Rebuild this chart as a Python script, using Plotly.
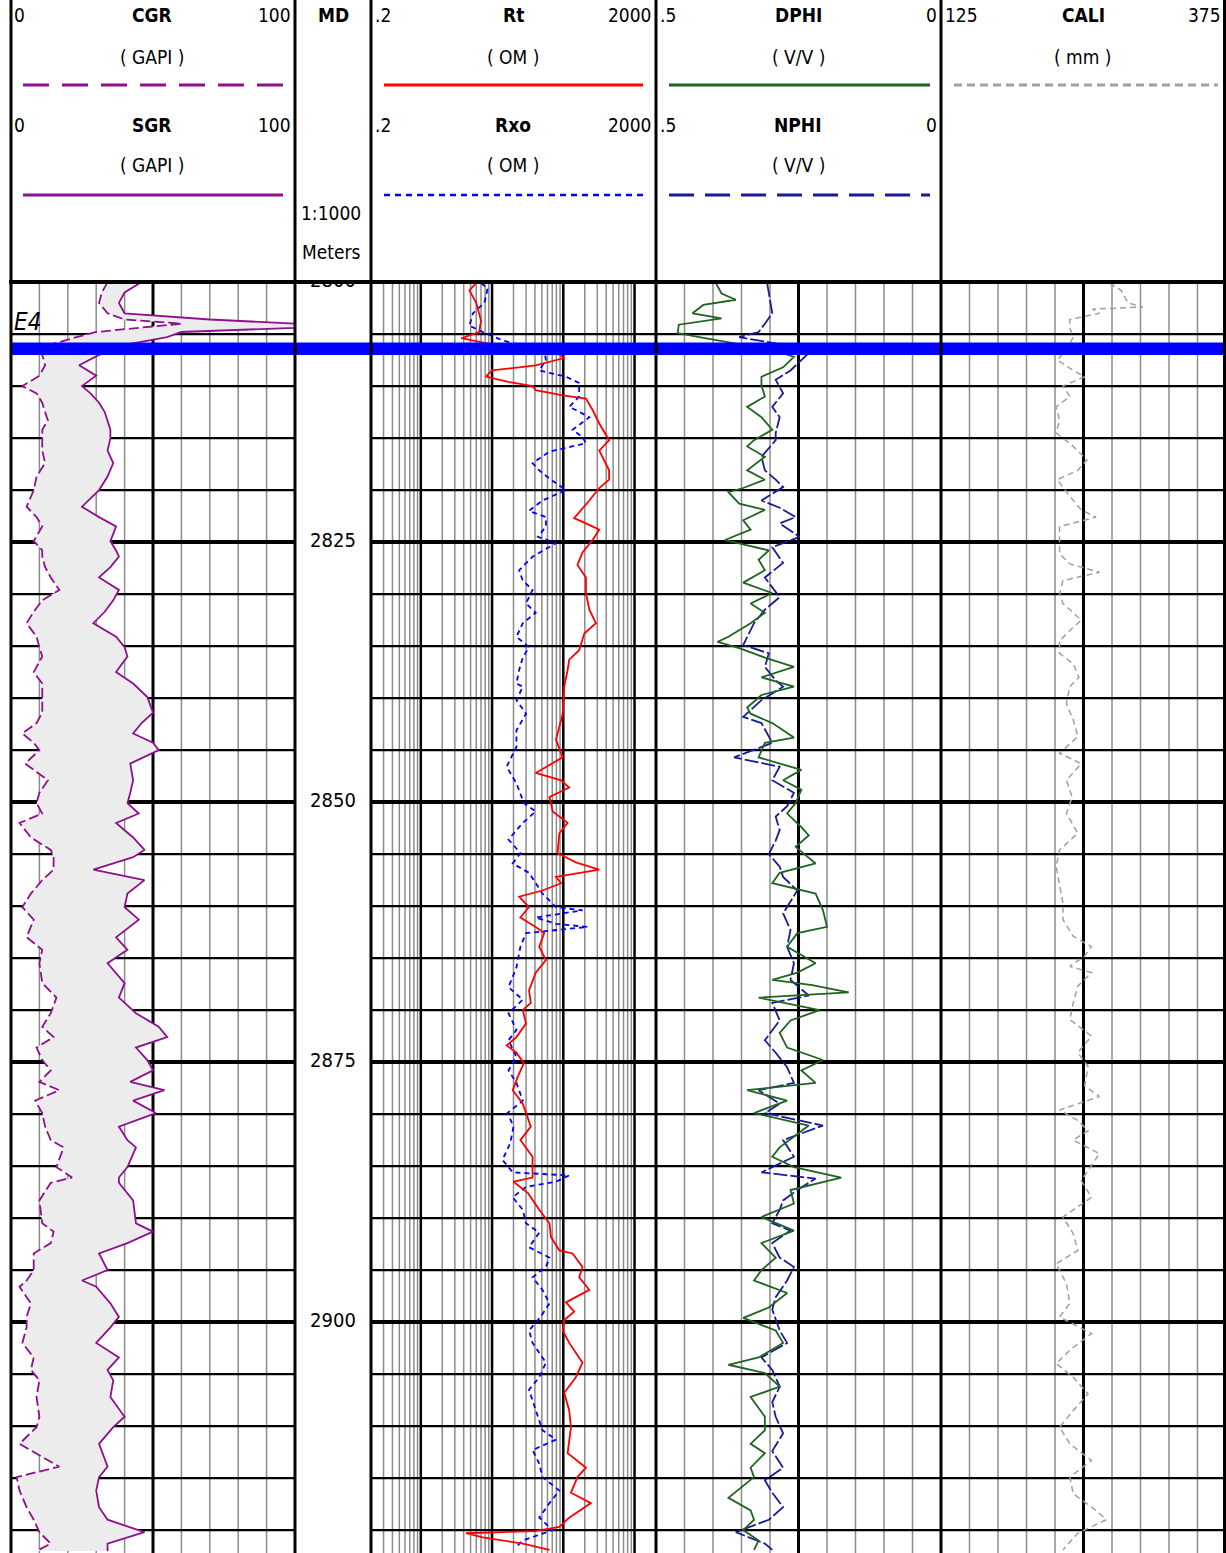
import plotly.graph_objects as go

W, H = 1226, 1553

# ---------------- data ----------------
gr_depth = [2800.0, 2801.0, 2802.0, 2803.0, 2803.6, 2804.0, 2804.4, 2804.8, 2805.3, 2806.0,
            2807.0, 2808.0, 2809.0, 2810.0, 2810.7, 2811.6, 2812.5, 2813.3, 2814.2, 2815.0,
            2816.2, 2817.4, 2818.7, 2820.0, 2821.6, 2822.6, 2823.5, 2824.9, 2825.8, 2826.4,
            2827.4, 2828.4, 2829.6, 2830.6, 2831.7, 2832.8, 2834.1, 2835.1, 2836.0, 2837.5,
            2838.6, 2839.9, 2841.4, 2842.4, 2843.4, 2844.3, 2845.0, 2846.3, 2847.9, 2849.1,
            2850.1, 2851.1, 2852.0, 2853.4, 2854.6, 2855.3, 2856.5, 2857.5, 2858.8, 2860.1,
            2861.3, 2863.0, 2864.2, 2865.5, 2867.4, 2868.8, 2870.3, 2871.6, 2872.6, 2873.6,
            2874.8, 2875.8, 2876.9, 2877.7, 2878.7, 2879.9, 2881.2, 2882.5, 2883.2, 2885.1,
            2886.1, 2886.6, 2888.3, 2890.5, 2891.3, 2892.4, 2893.4, 2895.0, 2896.0, 2896.6,
            2898.2, 2899.5, 2900.5, 2902.0, 2903.4, 2904.6, 2905.6, 2907.2, 2909.1, 2910.1,
            2911.7, 2913.9, 2914.9, 2916.2, 2917.8, 2919.0, 2920.2, 2921.3, 2922.0]
cgr = [34, 32, 31, 34, 40, 60, 45, 30, 23, 14,
       11, 12, 10, 4, 9, 11, 12, 13, 11, 11,
       11, 12, 9, 8, 5.5, 9, 11, 8, 11, 11,
       12, 14, 17, 11, 8, 5.5, 9, 10, 11, 8,
       11, 11, 11, 9, 4, 8, 10, 5, 13, 10,
       9, 11, 3, 7, 14, 15, 15, 11, 7, 4,
       8, 5.5, 11, 10, 11, 16, 14, 11, 15, 9,
       11, 14, 10, 17, 8.5, 11, 12, 14, 18.5, 16,
       21.5, 14, 10, 11, 15, 14, 8, 8, 5.5, 3,
       7, 5.5, 5.5, 4, 8, 7, 10, 9, 10, 9,
       3, 17, 2, 3, 5.5, 8, 10, 14, 9]
sgr = [46, 40, 38, 40, 70, 100, 100, 60, 55, 41,
       31, 24, 30, 25, 28, 31, 33, 34, 35, 35,
       34, 36, 34, 31, 25, 31, 37, 35, 37, 38,
       35, 31, 38, 36, 33, 29, 37, 40, 41, 37,
       43, 48, 50, 46, 43, 50, 52, 42, 43, 42,
       41, 45, 37, 43, 47, 43, 29, 47, 41, 40,
       45, 37, 41, 34, 40, 38, 44, 52, 55, 44,
       48, 50, 42, 54, 43, 51, 38, 41, 44, 41,
       38, 38, 43, 44, 50, 41, 31, 34, 25, 30,
       35, 38, 35, 30, 38, 34, 36, 35, 40, 36,
       31, 34, 31, 30, 31, 34, 47, 34, 34]

rt_depth = [2800.1, 2800.8, 2802.0, 2803.7, 2804.8, 2805.4, 2806.0, 2806.4, 2806.8, 2807.3,
            2808.0, 2808.5, 2809.1, 2809.6, 2810.0, 2810.4, 2810.9, 2811.2, 2812.3, 2813.6,
            2815.2, 2816.2, 2818.1, 2819.0, 2819.8, 2821.0, 2822.7, 2823.2, 2823.8, 2824.8,
            2826.0, 2827.2, 2828.4, 2829.9, 2831.5, 2832.8, 2833.8, 2835.4, 2836.3, 2837.3,
            2838.9, 2841.5, 2844.0, 2845.7, 2847.2, 2847.9, 2848.6, 2849.5, 2850.9, 2852.0,
            2853.0, 2854.9, 2855.8, 2856.5, 2857.2, 2857.8, 2858.5, 2859.1, 2860.1, 2861.1,
            2862.0, 2862.6, 2863.9, 2865.2, 2866.4, 2868.1, 2869.3, 2870.0, 2871.3, 2872.6,
            2873.4, 2874.1, 2875.1, 2876.4, 2877.7, 2879.0, 2879.9, 2881.2, 2882.5, 2884.1,
            2886.1, 2886.5, 2887.6, 2889.2, 2890.5, 2891.8, 2893.1, 2893.4, 2894.7, 2895.7,
            2896.9, 2898.1, 2899.0, 2899.8, 2900.8, 2902.0, 2903.9, 2905.3, 2906.8, 2908.5,
            2910.1, 2912.6, 2914.0, 2914.9, 2916.4, 2917.4, 2918.8, 2919.7, 2920.1, 2920.3,
            2920.7, 2921.3, 2921.9]
rt = [6, 4.8, 6, 7, 6.6, 3.7, 10, 30, 80, 103,
      41, 10, 8.2, 17, 37, 41, 98, 208, 258, 320,
      440, 320, 440, 440, 320, 232, 142, 208, 320, 258,
      186, 158, 208, 208, 232, 287, 197, 167, 121, 115,
      103, 98, 79, 98, 41, 93, 121, 64, 71, 115,
      88, 83, 150, 320, 79, 93, 51, 24, 33, 25,
      41, 54, 46, 57, 41, 33, 35, 27, 30, 22,
      16, 22, 28, 23, 19.5, 27, 30, 35, 25, 37,
      37, 20, 32, 46, 64, 67, 88, 135, 186, 167,
      232, 109, 142, 103, 98, 121, 186, 150, 103, 121,
      128, 115, 208, 158, 128, 244, 121, 88, 40, 4.3,
      7.4, 27, 64]

rxo_depth = [2800.1, 2800.6, 2802.0, 2803.0, 2804.2, 2804.8, 2805.6, 2806.2, 2806.8, 2807.5,
             2808.5, 2809.1, 2809.7, 2811.0, 2812.0, 2812.3, 2813.0, 2814.2, 2814.9, 2815.5,
             2816.3, 2817.4, 2818.1, 2819.0, 2820.0, 2821.0, 2822.0, 2822.6, 2823.5, 2824.5,
             2825.1, 2826.4, 2827.7, 2828.7, 2829.6, 2830.9, 2831.8, 2832.8, 2834.1, 2835.1,
             2836.1, 2837.3, 2838.6, 2838.9, 2840.2, 2841.5, 2843.1, 2844.7, 2846.6, 2848.2,
             2850.1, 2850.9, 2852.0, 2853.6, 2854.9, 2855.9, 2856.8, 2857.8, 2858.8, 2860.1,
             2860.4, 2861.1, 2861.7, 2862.0, 2862.6, 2863.9, 2865.9, 2867.8, 2869.0, 2870.3,
             2871.9, 2872.9, 2874.5, 2875.8, 2877.0, 2878.7, 2879.9, 2881.2, 2882.8, 2884.4,
             2885.6, 2885.9, 2886.5, 2887.0, 2888.0, 2889.2, 2890.5, 2891.4, 2892.8, 2893.8,
             2894.7, 2895.7, 2896.9, 2898.2, 2899.5, 2900.8, 2902.0, 2903.9, 2905.3, 2906.5,
             2908.5, 2910.4, 2911.3, 2912.3, 2913.6, 2914.9, 2916.2, 2917.4, 2918.8, 2920.0,
             2921.0, 2921.6]
rxo = [7, 8.7, 7.8, 5.4, 4.8, 7.4, 14, 30, 55, 57,
       46, 109, 167, 167, 121, 150, 232, 135, 186, 208,
       64, 37, 46, 67, 109, 51, 33, 57, 57, 44,
       79, 37, 24, 27, 37, 30, 41, 27, 22, 33,
       27, 24, 22, 27, 22, 30, 22, 22, 16, 22,
       28, 41, 27, 17, 25, 19.5, 33, 41, 51, 79,
       186, 41, 79, 219, 30, 25, 22, 17, 27, 17,
       22, 17, 22, 17, 22, 27, 16.5, 20, 18, 14,
       19.5, 121, 79, 30, 19.5, 27, 30, 46, 33, 64,
       57, 37, 51, 64, 48, 33, 37, 57, 46, 33,
       41, 51, 79, 37, 46, 51, 88, 64, 46, 71,
       27, 22]

dphi_depth = [2800.1, 2801.1, 2801.7, 2802.2, 2803.0, 2803.5, 2804.1, 2804.9, 2805.3, 2806.0,
              2806.6, 2807.2, 2808.2, 2809.1, 2809.9, 2811.0, 2812.0, 2813.0, 2814.2, 2815.2,
              2815.8, 2816.8, 2818.1, 2819.0, 2819.8, 2820.2, 2821.3, 2821.9, 2822.9, 2823.8,
              2824.8, 2825.8, 2826.7, 2827.7, 2828.9, 2829.9, 2830.9, 2831.8, 2832.8, 2834.1,
              2834.6, 2835.2, 2836.1, 2837.0, 2838.0, 2838.9, 2839.7, 2840.9, 2841.5, 2842.4,
              2843.8, 2844.3, 2845.7, 2846.9, 2847.9, 2848.8, 2850.1, 2851.1, 2852.4, 2853.2,
              2854.3, 2855.9, 2856.8, 2857.8, 2858.8, 2860.4, 2862.0, 2862.6, 2863.9, 2865.5,
              2866.4, 2867.1, 2867.6, 2868.3, 2868.8, 2870.0, 2871.0, 2872.2, 2873.6, 2874.8,
              2875.8, 2877.0, 2877.7, 2878.7, 2879.9, 2881.1, 2882.2, 2883.2, 2884.1, 2885.1,
              2886.1, 2887.3, 2888.6, 2889.9, 2891.2, 2892.4, 2893.8, 2895.0, 2896.0, 2897.2,
              2898.6, 2899.6, 2900.8, 2902.0, 2903.4, 2904.1, 2904.9, 2906.2, 2907.2, 2908.2,
              2909.1, 2910.4, 2911.7, 2912.6, 2914.0, 2914.9, 2916.9, 2918.1, 2919.0, 2920.0,
              2921.0, 2921.9]
dphi = [0.395, 0.385, 0.36, 0.417, 0.436, 0.385, 0.46, 0.462, 0.424, 0.35,
        0.29, 0.258, 0.277, 0.315, 0.315, 0.309, 0.34, 0.315, 0.296, 0.328,
        0.34, 0.309, 0.34, 0.309, 0.347, 0.373, 0.354, 0.309, 0.347, 0.334,
        0.379, 0.302, 0.32, 0.309, 0.347, 0.296, 0.334, 0.309, 0.334, 0.373,
        0.392, 0.354, 0.309, 0.258, 0.315, 0.258, 0.315, 0.34, 0.334, 0.296,
        0.258, 0.309, 0.32, 0.245, 0.277, 0.245, 0.255, 0.27, 0.245, 0.232,
        0.255, 0.22, 0.283, 0.296, 0.22, 0.207, 0.2, 0.252, 0.27, 0.22,
        0.252, 0.296, 0.226, 0.162, 0.32, 0.213, 0.264, 0.283, 0.27, 0.207,
        0.245, 0.22, 0.34, 0.27, 0.328, 0.232, 0.258, 0.283, 0.296, 0.258,
        0.175, 0.264, 0.258, 0.315, 0.258, 0.315, 0.29, 0.315, 0.328, 0.27,
        0.302, 0.347, 0.29, 0.277, 0.32, 0.373, 0.309, 0.283, 0.334, 0.32,
        0.309, 0.309, 0.334, 0.309, 0.334, 0.328, 0.373, 0.334, 0.328, 0.347,
        0.32, 0.328]

nphi_depth = [2800.1, 2801.0, 2802.0, 2803.0, 2804.0, 2804.8, 2805.3, 2806.0, 2806.5, 2807.5,
              2808.5, 2809.4, 2810.7, 2812.0, 2813.0, 2814.5, 2815.2, 2816.8, 2818.1, 2819.0,
              2819.7, 2821.0, 2821.7, 2822.6, 2823.2, 2824.5, 2825.5, 2827.0, 2828.4, 2830.3,
              2831.5, 2832.8, 2834.1, 2834.9, 2835.7, 2837.0, 2838.3, 2838.9, 2840.2, 2841.8,
              2842.4, 2844.3, 2845.7, 2846.6, 2847.9, 2849.1, 2850.4, 2851.4, 2852.7, 2853.7,
              2855.0, 2856.2, 2857.2, 2858.5, 2860.7, 2862.3, 2863.9, 2865.5, 2867.1, 2868.6,
              2869.3, 2871.0, 2872.9, 2874.1, 2875.5, 2877.0, 2877.7, 2879.0, 2879.9, 2881.1,
              2882.5, 2884.1, 2885.6, 2886.2, 2887.3, 2888.3, 2889.2, 2890.5, 2891.2, 2892.4,
              2893.8, 2894.7, 2896.0, 2897.6, 2898.8, 2900.8, 2902.0, 2903.4, 2904.6, 2906.2,
              2907.7, 2909.1, 2910.7, 2912.4, 2914.0, 2915.2, 2916.4, 2917.8, 2919.0, 2920.2,
              2921.3, 2921.9]
nphi = [0.305, 0.302, 0.298, 0.296, 0.309, 0.32, 0.354, 0.28, 0.226, 0.245,
        0.264, 0.29, 0.277, 0.296, 0.283, 0.29, 0.29, 0.315, 0.309, 0.29,
        0.277, 0.315, 0.283, 0.255, 0.283, 0.248, 0.296, 0.277, 0.309, 0.283,
        0.309, 0.328, 0.34, 0.347, 0.302, 0.309, 0.29, 0.277, 0.315, 0.347,
        0.315, 0.296, 0.363, 0.283, 0.296, 0.258, 0.27, 0.29, 0.283, 0.29,
        0.302, 0.283, 0.277, 0.252, 0.277, 0.264, 0.27, 0.258, 0.264, 0.232,
        0.296, 0.283, 0.309, 0.29, 0.27, 0.258, 0.32, 0.283, 0.309, 0.207,
        0.277, 0.258, 0.315, 0.22, 0.252, 0.277, 0.283, 0.296, 0.264, 0.296,
        0.283, 0.258, 0.27, 0.29, 0.296, 0.283, 0.27, 0.315, 0.296, 0.283,
        0.296, 0.29, 0.277, 0.296, 0.277, 0.309, 0.296, 0.277, 0.302, 0.36,
        0.309, 0.296]

cali_depth = [2800.1, 2800.8, 2802.0, 2802.4, 2802.6, 2803.0, 2803.6, 2804.4, 2805.3, 2806.5,
              2807.5, 2808.5, 2809.1, 2810.0, 2811.0, 2812.0, 2813.3, 2814.5, 2815.8, 2817.1,
              2818.1, 2819.0, 2820.6, 2821.9, 2822.6, 2823.5, 2824.5, 2826.1, 2827.1, 2827.9,
              2828.7, 2830.0, 2830.9, 2832.5, 2833.5, 2834.5, 2835.7, 2836.7, 2838.0, 2838.9,
              2840.5, 2842.1, 2843.7, 2845.3, 2846.3, 2847.9, 2849.5, 2851.1, 2853.0, 2854.6,
              2856.2, 2858.1, 2859.7, 2861.3, 2862.9, 2863.9, 2864.8, 2865.8, 2866.4, 2867.7,
              2869.3, 2870.9, 2872.5, 2874.1, 2875.4, 2877.3, 2878.3, 2879.6, 2880.6, 2881.6,
              2882.5, 2883.8, 2886.4, 2888.0, 2889.9, 2891.5, 2893.1, 2894.4, 2896.3, 2898.2,
              2899.5, 2901.1, 2902.7, 2904.0, 2905.3, 2906.9, 2908.5, 2910.1, 2911.7, 2913.3,
              2914.9, 2916.5, 2918.1, 2919.0, 2920.3, 2921.9]
cali = [273, 283, 289, 302, 258, 264, 238, 238, 241, 235,
        227, 241, 251, 232, 238, 226, 229, 226, 241, 253,
        245, 227, 238, 248, 261, 229, 229, 229, 238, 264,
        232, 229, 232, 248, 238, 229, 229, 241, 246, 238,
        235, 241, 245, 229, 248, 235, 240, 235, 245, 229,
        226, 229, 232, 232, 241, 257, 251, 238, 257, 245,
        241, 238, 257, 245, 254, 251, 264, 229, 245, 254,
        241, 264, 248, 257, 232, 241, 245, 226, 235, 238,
        229, 257, 238, 226, 241, 254, 241, 229, 238, 257,
        238, 241, 261, 270, 245, 232]

depth_ticks = [2800, 2825, 2850, 2875, 2900]
marker_name = "E4"
marker_top, marker_bottom = 2805.8, 2807.0

# ---------------- layout geometry ----------------
TOP = 280  # header height in px
ytop = (H - TOP) / H
def px(x): return x / W
def py(y): return 1 - y / H

borders = [11, 295, 371, 656, 941, 1224.5]
dom_gr = [px(11), px(295)]
dom_md = [px(295), px(371)]
dom_rs = [px(371), px(656)]
dom_ph = [px(656), px(941)]
dom_ca = [px(941), 1.0]

PURPLE = "#8e108e"
RED = "#ff0000"
RXO_BLUE = "#0000ff"
GREEN = "#1e641e"
NAVY = "#1a1a9a"
GRAY = "#a0a0a0"
GRIDGRAY = "#8c8c8c"
FONT = "DejaVu Sans Condensed, Liberation Sans Narrow, Arial Narrow, sans-serif"

fig = go.Figure()

# GR track: CGR then SGR filled between
fig.add_trace(go.Scatter(x=cgr, y=gr_depth, xaxis="x", yaxis="y", mode="lines",
                         line=dict(color=PURPLE, width=1.8, dash="10px,4px"), name="CGR"))
fig.add_trace(go.Scatter(x=sgr, y=gr_depth, xaxis="x", yaxis="y", mode="lines",
                         fill="tonextx", fillcolor="#ececec",
                         line=dict(color=PURPLE, width=1.8), name="SGR"))
# depth labels
fig.add_trace(go.Scatter(x=[0.5] * len(depth_ticks), y=depth_ticks, xaxis="x2", yaxis="y",
                         mode="text", text=[str(d) for d in depth_ticks],
                         textfont=dict(family=FONT, size=20, color="black"),
                         cliponaxis=True, name="MD"))
# resistivity
fig.add_trace(go.Scatter(x=rxo, y=rxo_depth, xaxis="x3", yaxis="y", mode="lines",
                         line=dict(color=RXO_BLUE, width=1.8, dash="5px,4px"), name="Rxo"))
fig.add_trace(go.Scatter(x=rt, y=rt_depth, xaxis="x3", yaxis="y", mode="lines",
                         line=dict(color=RED, width=1.8), name="Rt"))
# porosity
fig.add_trace(go.Scatter(x=nphi, y=nphi_depth, xaxis="x4", yaxis="y", mode="lines",
                         line=dict(color=NAVY, width=1.8, dash="14px,3px"), name="NPHI"))
fig.add_trace(go.Scatter(x=dphi, y=dphi_depth, xaxis="x4", yaxis="y", mode="lines",
                         line=dict(color=GREEN, width=1.8), name="DPHI"))
# caliper
fig.add_trace(go.Scatter(x=cali, y=cali_depth, xaxis="x5", yaxis="y", mode="lines",
                         line=dict(color=GRAY, width=1.5, dash="6px,4px"), name="CALI"))

ax_common = dict(showgrid=False, zeroline=False, showticklabels=False, ticks="",
                 showline=False, anchor="y", fixedrange=True)
fig.update_layout(
    width=W, height=H, margin=dict(l=0, r=0, t=0, b=0),
    paper_bgcolor="white", plot_bgcolor="white", showlegend=False,
    xaxis=dict(domain=dom_gr, range=[0, 100], **ax_common),
    xaxis2=dict(domain=dom_md, range=[0, 1], **ax_common),
    xaxis3=dict(domain=dom_rs, type="log", range=[-0.69897, 3.30103], **ax_common),
    xaxis4=dict(domain=dom_ph, range=[0.5, 0], **ax_common),
    xaxis5=dict(domain=dom_ca, range=[125, 375], **ax_common),
    yaxis=dict(domain=[0, ytop], range=[2922.2, 2799.8], showgrid=False, zeroline=False,
               showticklabels=False, ticks="", fixedrange=True),
)

shapes = []
def vline(xref, x, color, width):
    shapes.append(dict(type="line", xref=xref, yref="paper", x0=x, x1=x, y0=0, y1=ytop,
                       line=dict(color=color, width=width), layer="below"))

for v in range(10, 100, 10):
    vline("x", v, "black" if v == 50 else GRIDGRAY, 3 if v == 50 else 1.5)
res_lines = [0.3, 0.4, 0.5, 0.6, 0.7, 0.8, 0.9]
for dec in [1, 10, 100, 1000]:
    res_lines += [dec * k for k in range(1, 10)]
for v in res_lines:
    if v >= 2000:
        continue
    major = v in (1, 10, 100, 1000)
    vline("x3", v, "black" if major else GRIDGRAY, 2.5 if major else 1.5)
for k in range(1, 10):
    v = k * 0.05
    vline("x4", v, "black" if k == 5 else GRIDGRAY, 3 if k == 5 else 1.5)
for k in range(1, 10):
    v = 125 + k * 25
    vline("x5", v, "black" if k == 5 else GRIDGRAY, 3 if k == 5 else 1.5)

# horizontal depth grid (not in depth track)
for d in range(2805, 2925, 5):
    w = 4 if d % 25 == 0 else 2.2
    for x0, x1 in [(11, 295), (371, 1226)]:
        shapes.append(dict(type="line", xref="paper", yref="y", x0=px(x0), x1=px(x1),
                           y0=d, y1=d, line=dict(color="black", width=w), layer="below"))

# marker band
shapes.append(dict(type="rect", xref="paper", yref="y", x0=px(11), x1=1.0,
                   y0=marker_top, y1=marker_bottom, fillcolor="#0000ff",
                   line=dict(width=0), layer="above"))

# header bottom line and track borders
shapes.append(dict(type="line", xref="paper", yref="paper", x0=px(9), x1=1.0,
                   y0=py(282), y1=py(282), line=dict(color="black", width=4), layer="above"))
for b in borders:
    shapes.append(dict(type="line", xref="paper", yref="paper", x0=px(b), x1=px(b),
                       y0=0, y1=1, line=dict(color="black", width=3), layer="above"))

# header legend lines
def hline(x0, x1, y, color, width, dash="solid"):
    shapes.append(dict(type="line", xref="paper", yref="paper", x0=px(x0), x1=px(x1),
                       y0=py(y), y1=py(y), line=dict(color=color, width=width, dash=dash)))
hline(23, 283, 85, PURPLE, 3, "26px,13px")
hline(23, 283, 195, PURPLE, 3)
hline(384, 643, 85, RED, 3)
hline(384, 645, 195, RXO_BLUE, 2.5, "6px,5px")
hline(669, 930, 85, GREEN, 3)
hline(669, 930, 195, NAVY, 3, "25px,11px")
hline(954, 1218, 85, GRAY, 3, "8px,5px")

fig.update_layout(shapes=shapes)

ann = []
def text(t, x, y, anchor="center", size=19):
    ann.append(dict(text=t, x=px(x), y=py(y), xref="paper", yref="paper",
                    xanchor=anchor, yanchor="middle", showarrow=False,
                    font=dict(family=FONT, size=size, color="black")))

for y, row in [(15, [("0", "<b>CGR</b>", "100"), ("<b>MD</b>",), (".2", "<b>Rt</b>", "2000"),
                     (".5", "<b>DPHI</b>", "0"), ("125", "<b>CALI</b>", "375")]),
               (125, [("0", "<b>SGR</b>", "100"), None, (".2", "<b>Rxo</b>", "2000"),
                      (".5", "<b>NPHI</b>", "0"), None])]:
    tracks = [(12, 152, 293), (None, 333, None), (373, 513, 654), (658, 798, 939), (943, 1083, 1223)]
    for (xl, xc, xr), labels in zip(tracks, row):
        if labels is None:
            continue
        if len(labels) == 1:
            text(labels[0], xc, y)
        else:
            text(labels[0], xl, y, "left")
            text(labels[1], xc, y)
            text(labels[2], xr, y, "right")

for y, units in [(57, [("( GAPI )", 152), ("( OM )", 513), ("( V/V )", 798), ("( mm )", 1083)]),
                 (165, [("( GAPI )", 152), ("( OM )", 513), ("( V/V )", 798)])]:
    for t, x in units:
        text(t, x, y)

text("1:1000", 331, 213)
text("Meters", 331, 252)
text("<i>" + marker_name + "</i>", 12, 322, "left", 24)

fig.update_layout(annotations=ann)
fig.write_html("out.html")
